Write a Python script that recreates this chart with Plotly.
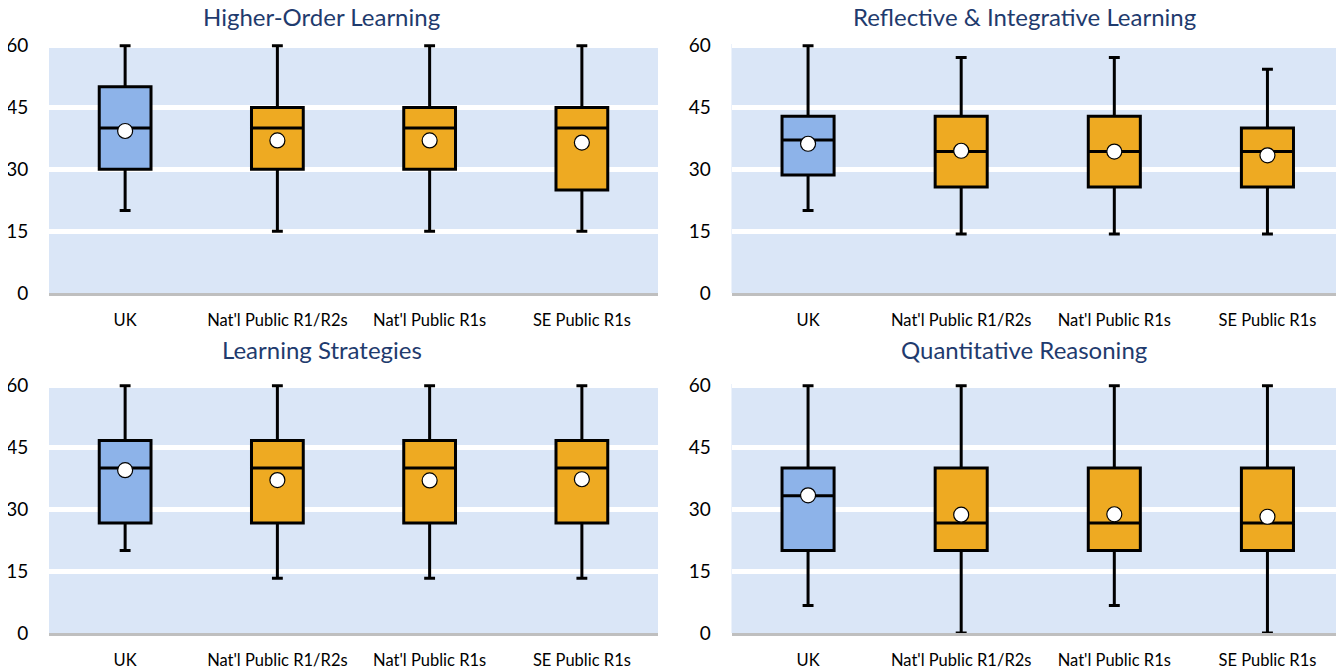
import plotly.graph_objects as go

categories = ["UK", "Nat'l Public R1/R2s", "Nat'l Public R1s", "SE Public R1s"]
titles = ["Higher-Order Learning", "Reflective & Integrative Learning",
          "Learning Strategies", "Quantitative Reasoning"]

# per panel: lists over categories
hol_low = [20, 15, 15, 15]
hol_q1 = [30, 30, 30, 25]
hol_med = [40, 40, 40, 40]
hol_q3 = [50, 45, 45, 45]
hol_high = [60, 60, 60, 60]
hol_mean = [39.3, 37.0, 37.0, 36.5]

ril_low = [20, 14.3, 14.3, 14.3]
ril_q1 = [28.6, 25.7, 25.7, 25.7]
ril_med = [37.1, 34.3, 34.3, 34.3]
ril_q3 = [42.9, 42.9, 42.9, 40.0]
ril_high = [60, 57.1, 57.1, 54.3]
ril_mean = [36.2, 34.5, 34.3, 33.4]

ls_low = [20, 13.3, 13.3, 13.3]
ls_q1 = [26.7, 26.7, 26.7, 26.7]
ls_med = [40, 40, 40, 40]
ls_q3 = [46.7, 46.7, 46.7, 46.7]
ls_high = [60, 60, 60, 60]
ls_mean = [39.5, 37.1, 37.0, 37.3]

qr_low = [6.7, 0, 6.7, 0]
qr_q1 = [20, 20, 20, 20]
qr_med = [33.3, 26.7, 26.7, 26.7]
qr_q3 = [40, 40, 40, 40]
qr_high = [60, 60, 60, 60]
qr_mean = [33.4, 28.7, 28.8, 28.2]

y_ticks = [0, 15, 30, 45, 60]

panels = [
    (hol_low, hol_q1, hol_med, hol_q3, hol_high, hol_mean),
    (ril_low, ril_q1, ril_med, ril_q3, ril_high, ril_mean),
    (ls_low, ls_q1, ls_med, ls_q3, ls_high, ls_mean),
    (qr_low, qr_q1, qr_med, qr_q3, qr_high, qr_mean),
]

W, H = 1344, 668
OFF = 8  # page body margin offset
BLUE = "#8DB3E9"
ORANGE = "#EEAA22"
BG = "#DAE6F7"
TITLE_C = "#1F3B6E"
FONT = "Lato"

# pixel layout of subplot areas (in screen coords)
x_dom_px = [(49, 658), (731.5, 1344), (49, 658), (731.5, 1344)]
y_dom_px = [(44, 293), (44, 293), (384, 633), (384, 633)]
title_pos_px = [(321, 17), (1024, 17), (322, 349), (1024, 349)]

fig = go.Figure()
layout = dict(
    width=W, height=H,
    autosize=False,
    margin=dict(l=0, r=0, t=0, b=0, pad=0, autoexpand=False),
    paper_bgcolor="white",
    showlegend=False,
    boxmode="overlay",
    annotations=[],
)

for i, (low, q1, med, q3, high, mean) in enumerate(panels):
    n = i + 1
    xa = "x" if n == 1 else f"x{n}"
    ya = "y" if n == 1 else f"y{n}"
    for j, cat in enumerate(categories):
        fig.add_trace(go.Box(
            x=[cat], q1=[q1[j]], median=[med[j]], q3=[q3[j]],
            lowerfence=[low[j]], upperfence=[high[j]],
            fillcolor=BLUE if j == 0 else ORANGE,
            line=dict(color="black", width=3),
            width=0.34, whiskerwidth=0.21,
            boxpoints=False, hoverinfo="skip",
            xaxis=xa, yaxis=ya,
        ))
    fig.add_trace(go.Scatter(
        x=categories, y=mean, mode="markers",
        marker=dict(size=15, color="white", line=dict(color="black", width=1.2)),
        xaxis=xa, yaxis=ya, cliponaxis=False, hoverinfo="skip",
    ))
    x0, x1 = x_dom_px[i]
    y0, y1 = y_dom_px[i]
    xkey = "xaxis" if n == 1 else f"xaxis{n}"
    ykey = "yaxis" if n == 1 else f"yaxis{n}"
    layout[xkey] = dict(
        domain=[(x0 - OFF) / W, min(1, (x1 - OFF) / W)], anchor=ya, automargin=False,
        type="category", categoryorder="array", categoryarray=categories,
        range=[-0.5, 3.5],
        showgrid=False, zeroline=False,
        showline=True, linecolor="#BFBFBF", linewidth=3,
        ticks="outside", ticklen=10, tickcolor="rgba(0,0,0,0)",
        tickfont=dict(family=FONT, size=16.5, color="black"),
    )
    layout[ykey] = dict(
        domain=[1 - (y1 - OFF) / H, 1 - (y0 - OFF) / H], anchor=xa, automargin=False,
        range=[0, 60.4],
        tickvals=y_ticks, ticktext=[str(v) for v in y_ticks],
        showgrid=True, gridcolor="white", gridwidth=5,
        zeroline=False, showline=False,
        ticks="outside", ticklen=16, tickcolor="rgba(0,0,0,0)",
        tickfont=dict(family=FONT, size=19, color="black"),
    )
    layout["plot_bgcolor"] = BG
    tx, ty = title_pos_px[i]
    layout["annotations"].append(dict(
        text=titles[i], xref="paper", yref="paper",
        x=(tx - OFF) / W, y=1 - (ty - OFF) / H, xanchor="center", yanchor="middle",
        showarrow=False, font=dict(family=FONT, size=24, color=TITLE_C),
    ))

fig.update_layout(**layout)
fig.write_html("out.html")
